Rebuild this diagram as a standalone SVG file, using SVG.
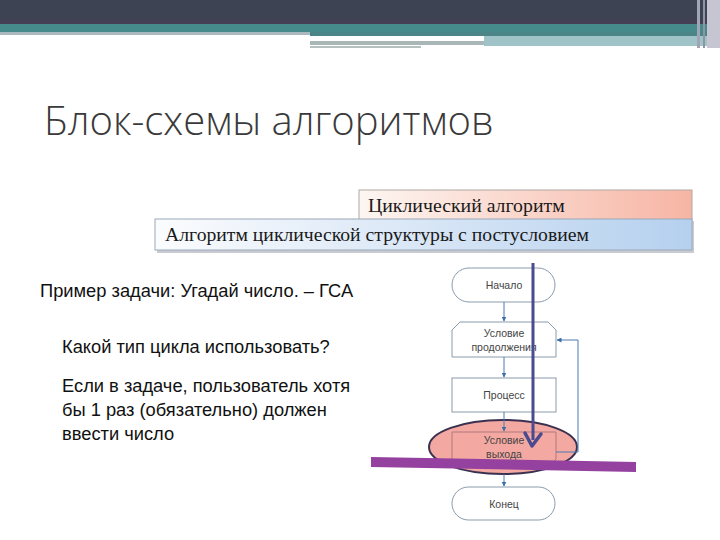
<svg xmlns="http://www.w3.org/2000/svg" width="720" height="540" viewBox="0 0 720 540">
<defs>
  <linearGradient id="gRed" x1="0" y1="0" x2="1" y2="0">
    <stop offset="0" stop-color="#fdf6f2"/>
    <stop offset="1" stop-color="#f7b5a4"/>
  </linearGradient>
  <linearGradient id="gBlue" x1="0" y1="0" x2="1" y2="0">
    <stop offset="0" stop-color="#fbfcfe"/>
    <stop offset="1" stop-color="#b5d0ee"/>
  </linearGradient>
  <marker id="arr" viewBox="0 0 10 10" refX="9" refY="5" markerWidth="5" markerHeight="5" orient="auto">
    <path d="M0,0 L10,5 L0,10 z" fill="#3a6ea8"/>
  </marker>
</defs>
<style>
  .sans { font-family: "Liberation Sans", Arial, sans-serif; }
  .serif { font-family: "Liberation Serif", "DejaVu Serif", serif; }
  .fc { fill: #ffffff; stroke: #8a9aab; stroke-width: 1; }
  .fct { font-family: "Liberation Sans", Arial, sans-serif; font-size: 10.5px; fill: #444; text-anchor: middle; }
  .con { stroke: #4a7ab0; stroke-width: 1; fill: none; }
  .body { font-size: 18.3px; fill: #111; }
</style>
<rect x="0" y="0" width="720" height="540" fill="#ffffff"/>
<!-- header bars -->
<g id="header">
  <rect x="0" y="0" width="720" height="24" fill="#3e4353"/>
  <rect x="0" y="20" width="720" height="4" fill="#443f55"/>
  <rect x="0" y="24" width="720" height="8" fill="#468a8c"/>
  <rect x="0" y="32" width="310" height="3" fill="#a9b9bd"/>
  <rect x="310" y="32" width="400" height="4" fill="#4b8587"/>
  <rect x="310" y="36" width="174" height="3" fill="#ffffff"/>
  <rect x="484" y="36" width="226" height="10" fill="#9fc3c6"/>
  <rect x="310" y="41" width="174" height="4" fill="#a8b6b6"/>
  <rect x="310" y="46" width="111" height="2" fill="#b4c0c0"/>
  <rect x="697" y="0" width="3" height="48" fill="#a0a6b4"/>
  <rect x="703" y="0" width="2" height="48" fill="#8e94a6"/>
  <rect x="707" y="0" width="13" height="48" fill="#c6c6d2"/>
</g>
<text x="44" y="135" font-family="'Open Sans', 'DejaVu Sans', sans-serif" font-size="40" font-weight="300" fill="#3a3a3a">Блок-схемы алгоритмов</text>
<!-- heading boxes -->
<g id="box-cyclic">
  <rect x="359" y="190" width="333" height="30" fill="url(#gRed)" stroke="#b0a8a4" stroke-width="1"/>
  <text x="368" y="212" class="serif" font-size="19.8" fill="#1a1a1a">Циклический алгоритм</text>
</g>
<g id="box-post">
  <rect x="157" y="221" width="537" height="32" fill="#c8ccd2"/>
  <rect x="155" y="219" width="537" height="31" fill="url(#gBlue)" stroke="#9aa8b8" stroke-width="1"/>
  <text x="165" y="241" class="serif" font-size="19.7" fill="#1a1a1a">Алгоритм циклической структуры с постусловием</text>
</g>
<!-- left text -->
<g id="text-left" class="sans body">
  <text x="40" y="297">Пример задачи: Угадай число. – ГСА</text>
  <text x="62" y="353">Какой тип цикла использовать?</text>
  <text x="62" y="392">Если в задаче, пользователь хотя</text>
  <text x="62" y="416">бы 1 раз (обязательно) должен</text>
  <text x="62" y="440">ввести число</text>
</g>
<!-- flowchart -->
<g id="start">
  <rect class="fc" x="452" y="268" width="103" height="34" rx="17" ry="17"/>
  <text class="fct" x="504" y="289">Начало</text>
</g>
<g id="cond-continue">
  <path class="fc" d="M460,322 L548,322 L556,330 L556,357 L452,357 L452,330 Z"/>
  <text class="fct" x="504" y="337">Условие</text>
  <text class="fct" x="504" y="351">продолжения</text>
</g>
<g id="process">
  <rect class="fc" x="452" y="378" width="104" height="34"/>
  <text class="fct" x="504" y="399">Процесс</text>
</g>
<g id="cond-exit">
  <ellipse cx="503" cy="447" rx="74" ry="27" fill="#f4a8a2" stroke="#3a3050" stroke-width="2"/>
  <path d="M452,432 L556,432 L556,459 L548,467 L460,467 L452,459 Z" fill="none" stroke="#b07a7a" stroke-width="1"/>
  <text class="fct" x="504" y="444" fill="#4a3030">Условие</text>
  <text class="fct" x="504" y="458" fill="#4a3030">выхода</text>
</g>
<g id="end">
  <rect class="fc" x="452" y="487" width="103" height="33" rx="16.5" ry="16.5"/>
  <text class="fct" x="504" y="508">Конец</text>
</g>
<g id="connectors">
  <line class="con" x1="504" y1="302" x2="504" y2="321" marker-end="url(#arr)"/>
  <line class="con" x1="504" y1="357" x2="504" y2="377" marker-end="url(#arr)"/>
  <line class="con" x1="504" y1="412" x2="504" y2="431" marker-end="url(#arr)"/>
  <line class="con" x1="504" y1="474" x2="504" y2="486" marker-end="url(#arr)"/>
  <polyline class="con" points="556,452 578,452 578,340 557,340" marker-end="url(#arr)"/>
</g>
<!-- annotations -->
<g id="annotations">
  <polygon points="371,457 636,462 636,472 371,467" fill="#9441a0"/>
  <path d="M533,263 L533,440" stroke="#4a4a8e" stroke-width="3" fill="none"/>
  <path d="M525,433 L532,446 L541,434" stroke="#4a4a8e" stroke-width="3.5" fill="none" stroke-linejoin="round" stroke-linecap="round"/>
</g>
</svg>
